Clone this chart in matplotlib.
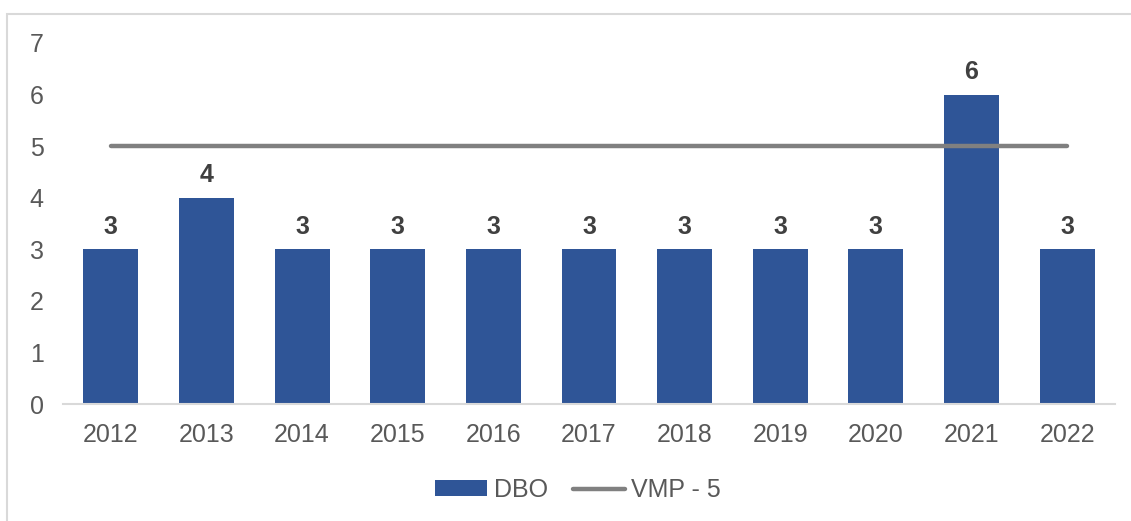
import matplotlib.pyplot as plt
import numpy as np
from matplotlib.patches import Rectangle

plt.rcParams['font.family'] = ['Liberation Sans', 'DejaVu Sans']

years = ['2012', '2013', '2014', '2015', '2016', '2017', '2018', '2019', '2020', '2021', '2022']
dbo = [3, 4, 3, 3, 3, 3, 3, 3, 3, 6, 3]
vmp = [5] * len(years)

bar_color = '#2F5597'
line_color = '#808080'
text_color = '#595959'

fig = plt.figure(figsize=(11.31, 5.21), dpi=100)
ax = fig.add_axes([63 / 1131, 1 - 404 / 521, 1052 / 1131, 361 / 521])

x = np.arange(len(years))
bars = ax.bar(x, dbo, width=0.575, color=bar_color, label='DBO', zorder=2)
line, = ax.plot(x, vmp, color=line_color, linewidth=3.2, solid_capstyle='round', label='VMP - 5', zorder=3)

for xi, v in zip(x, dbo):
    ax.text(xi, v + 0.2, str(v), ha='center', va='bottom', fontsize=18,
            fontweight='bold', color='#404040')

ax.set_xlim(-0.5, len(years) - 0.5)
ax.set_ylim(0, 7)
ax.set_xticks(x)
ax.set_xticklabels(years)
ax.set_yticks(range(0, 8))
ax.tick_params(axis='both', length=0, labelsize=18, colors=text_color)
ax.tick_params(axis='x', pad=14)
ax.tick_params(axis='y', pad=14)
for s in ['top', 'right', 'left']:
    ax.spines[s].set_visible(False)
ax.spines['bottom'].set_color('#D9D9D9')
ax.spines['bottom'].set_linewidth(1.5)

leg = fig.legend([bars, line], ['DBO', 'VMP - 5'], loc='center',
                 bbox_to_anchor=(0.511, 1 - 490 / 521), ncol=2, frameon=False,
                 fontsize=18, handlelength=2.1, handleheight=0.6, handletextpad=0.25,
                 columnspacing=1.0)
for t in leg.get_texts():
    t.set_color(text_color)

fig.patches.append(Rectangle((7 / 1131, -0.1), 1.2, 1 - 14 / 521 + 0.1, transform=fig.transFigure,
                             fill=False, edgecolor='#D9D9D9', linewidth=1.5))

fig.savefig('out.png', dpi=100)
